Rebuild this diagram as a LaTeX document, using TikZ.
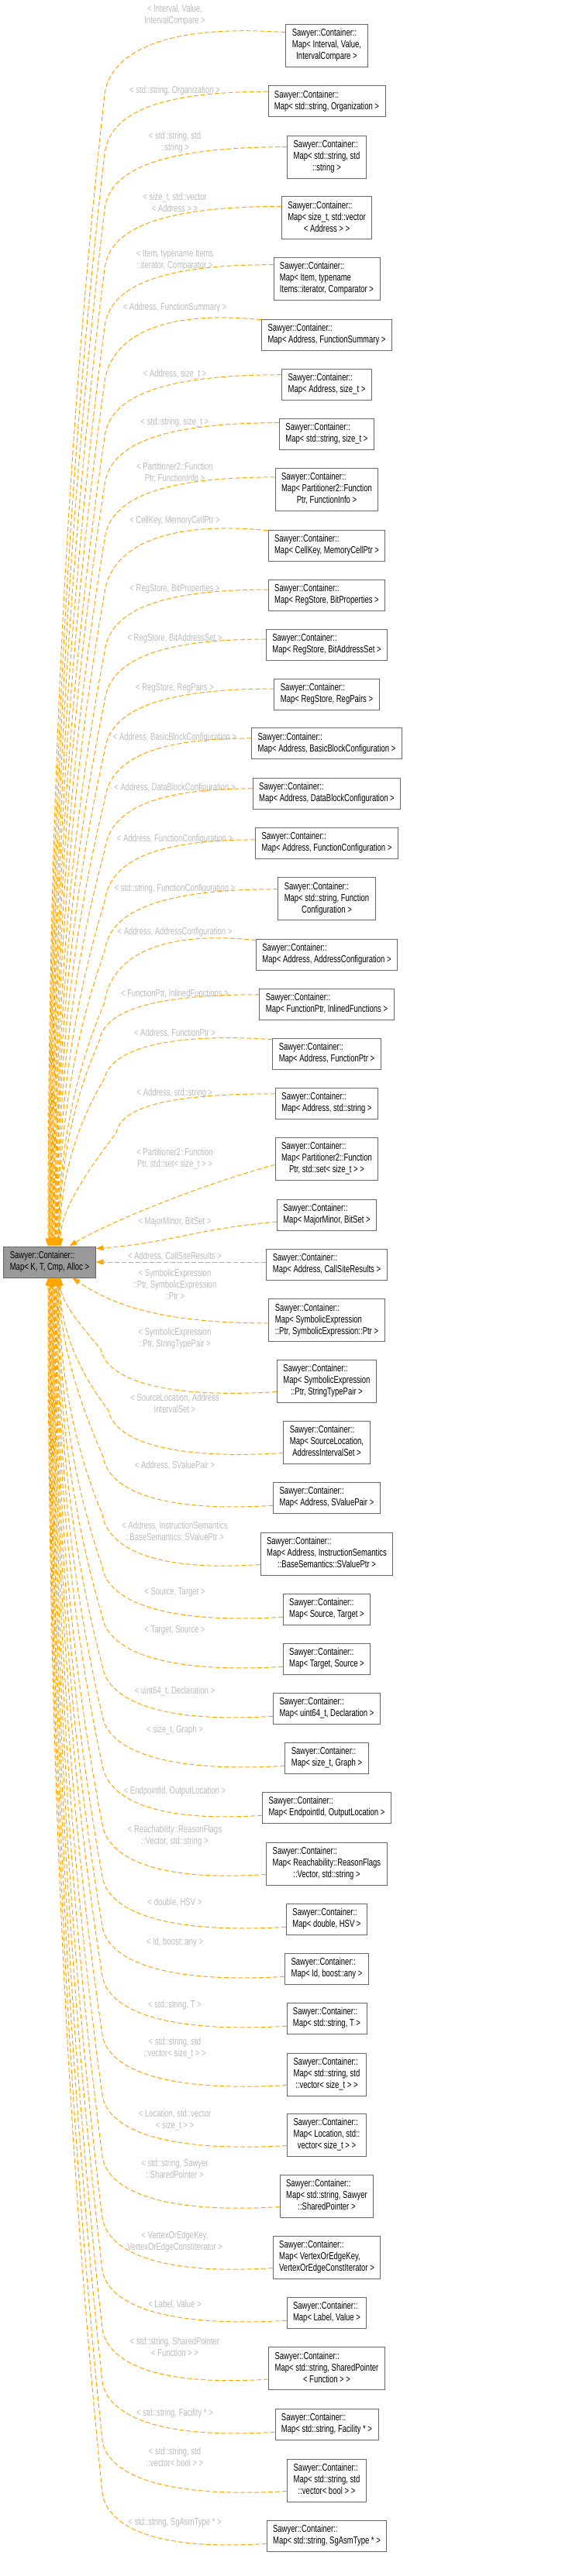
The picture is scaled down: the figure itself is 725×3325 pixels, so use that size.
\documentclass[tikz,border=0pt]{standalone}
\usepackage{fontspec}
\newfontfamily\dox{Liberation Sans}[FakeStretch=0.73]
\usetikzlibrary{calc,arrows.meta}
\definecolor{edgeor}{HTML}{FFA500}
\definecolor{boxgray}{HTML}{666666}
\definecolor{mainfill}{HTML}{999999}
\definecolor{lblgray}{HTML}{BBBBBB}
\newcommand\ntwo[1]{\begin{tabular}{@{}l@{}}Sawyer::Container::\\\multicolumn{1}{@{}c@{}}{#1}\end{tabular}}
\newcommand\nthree[2]{\begin{tabular}{@{}l@{}}Sawyer::Container::\\#1\\\multicolumn{1}{@{}c@{}}{#2}\end{tabular}}
% top edge: #1 node, #2 attach fraction, #3 first control offset (down), #4 xv, #5 hook height, #6 end x, #7 drift factor
\newcommand\tedge[7]{%
 \draw[inh] let \p1=($(#1.north west)!#2!(#1.south west)$), \p2=(main.north),
   \n1={\y1-#5-(\y2)} in
  (\p1) .. controls ({#4+0.28*(\x1-#4)},{\y1-(#3)}) and ({#4+6},{\y1-0.4*#5}) .. ({#4},{\y1-#5})
  .. controls ({#4-#7*(#4-#6)},{\y1-#5-\n1/3}) and ({#6},{\y2+\n1/3}) .. ({#6},{\y2});}
% bottom edge: #1 node, #2 xv, #3 hook height, #4 end x, #5 drift factor
\newcommand\bedge[5]{%
 \draw[inh] let \p1=($(#1.north west)!0.75!(#1.south west)$), \p2=(main.south),
   \n1={\y2-(\y1)-#3} in
  (\p1) .. controls ({#2+0.28*(\x1-#2)},{\y1-10}) and ({#2+6},{\y1+0.4*#3}) .. ({#2},{\y1+#3})
  .. controls ({#2-#5*(#2-#4)},{\y1+#3+\n1/3}) and ({#4},{\y2-\n1/3}) .. ({#4},{\y2});}
\begin{document}
\begin{tikzpicture}[x=1pt,y=1pt,
  box/.style={draw=boxgray,line width=0.9pt,fill=white,inner xsep=8pt,inner ysep=5pt,
    font=\dox\fontsize{13}{15}\selectfont},
  mainbox/.style={box,fill=mainfill},
  lbl/.style={font=\dox\fontsize{13}{15}\selectfont,text=lblgray,align=center,inner sep=0pt},
  inh/.style={draw=edgeor,line width=1pt,dash pattern=on 6pt off 3pt,
    -{Triangle[length=10pt,width=7pt]}}]
\useasboundingbox (0,0) rectangle (725,-3325);

\node[mainbox] (main) at (64,-1629) {\ntwo{Map< K, T, Cmp, Alloc >}};

\node[box] (n1) at (421.5,-58.5) {\nthree{Map< Interval, Value,}{IntervalCompare >}};
\node[box] (n2) at (421.5,-130.5) {\ntwo{Map< std::string, Organization >}};
\node[box] (n3) at (421.5,-202.5) {\nthree{Map< std::string, std}{::string >}};
\node[box] (n4) at (421.5,-281) {\nthree{Map< size\_t, std::vector}{< Address > >}};
\node[box] (n5) at (421.5,-359.5) {\nthree{Map< Item, typename}{Items::iterator, Comparator >}};
\node[box] (n6) at (421.5,-432) {\ntwo{Map< Address, FunctionSummary >}};
\node[box] (n7) at (421.5,-496) {\ntwo{Map< Address, size\_t >}};
\node[box] (n8) at (421.5,-560) {\ntwo{Map< std::string, size\_t >}};
\node[box] (n9) at (421.5,-631.5) {\nthree{Map< Partitioner2::Function}{Ptr, FunctionInfo >}};
\node[box] (n10) at (421.5,-704) {\ntwo{Map< CellKey, MemoryCellPtr >}};
\node[box] (n11) at (421.5,-768) {\ntwo{Map< RegStore, BitProperties >}};
\node[box] (n12) at (421.5,-832) {\ntwo{Map< RegStore, BitAddressSet >}};
\node[box] (n13) at (421.5,-896) {\ntwo{Map< RegStore, RegPairs >}};
\node[box] (n14) at (421.5,-959.5) {\ntwo{Map< Address, BasicBlockConfiguration >}};
\node[box] (n15) at (421.5,-1024) {\ntwo{Map< Address, DataBlockConfiguration >}};
\node[box] (n16) at (421.5,-1088) {\ntwo{Map< Address, FunctionConfiguration >}};
\node[box] (n17) at (421.5,-1160) {\nthree{Map< std::string, Function}{Configuration >}};
\node[box] (n18) at (421.5,-1232) {\ntwo{Map< Address, AddressConfiguration >}};
\node[box] (n19) at (421.5,-1296) {\ntwo{Map< FunctionPtr, InlinedFunctions >}};
\node[box] (n20) at (421.5,-1360) {\ntwo{Map< Address, FunctionPtr >}};
\node[box] (n21) at (421.5,-1424) {\ntwo{Map< Address, std::string >}};
\node[box] (n22) at (421.5,-1495.5) {\nthree{Map< Partitioner2::Function}{Ptr, std::set< size\_t > >}};
\node[box] (n23) at (421.5,-1568) {\ntwo{Map< MajorMinor, BitSet >}};
\node[box] (n24) at (421.5,-1632) {\ntwo{Map< Address, CallSiteResults >}};
\node[box] (n25) at (421.5,-1704) {\nthree{Map< SymbolicExpression}{::Ptr, SymbolicExpression::Ptr >}};
\node[box] (n26) at (421.5,-1782.5) {\nthree{Map< SymbolicExpression}{::Ptr, StringTypePair >}};
\node[box] (n27) at (421.5,-1861.5) {\nthree{Map< SourceLocation,}{AddressIntervalSet >}};
\node[box] (n28) at (421.5,-1933) {\ntwo{Map< Address, SValuePair >}};
\node[box] (n29) at (421.5,-2005.5) {\nthree{Map< Address, InstructionSemantics}{::BaseSemantics::SValuePtr >}};
\node[box] (n30) at (421.5,-2077) {\ntwo{Map< Source, Target >}};
\node[box] (n31) at (421.5,-2141) {\ntwo{Map< Target, Source >}};
\node[box] (n32) at (421.5,-2205) {\ntwo{Map< uint64\_t, Declaration >}};
\node[box] (n33) at (421.5,-2269) {\ntwo{Map< size\_t, Graph >}};
\node[box] (n34) at (421.5,-2333) {\ntwo{Map< EndpointId, OutputLocation >}};
\node[box] (n35) at (421.5,-2405.5) {\nthree{Map< Reachability::ReasonFlags}{::Vector, std::string >}};
\node[box] (n36) at (421.5,-2477) {\ntwo{Map< double, HSV >}};
\node[box] (n37) at (421.5,-2541) {\ntwo{Map< Id, boost::any >}};
\node[box] (n38) at (421.5,-2605) {\ntwo{Map< std::string, T >}};
\node[box] (n39) at (421.5,-2677.5) {\nthree{Map< std::string, std}{::vector< size\_t > >}};
\node[box] (n40) at (421.5,-2755.5) {\nthree{Map< Location, std::}{vector< size\_t > >}};
\node[box] (n41) at (421.5,-2834.5) {\nthree{Map< std::string, Sawyer}{::SharedPointer >}};
\node[box] (n42) at (421.5,-2913.5) {\nthree{Map< VertexOrEdgeKey,}{VertexOrEdgeConstIterator >}};
\node[box] (n43) at (421.5,-2985) {\ntwo{Map< Label, Value >}};
\node[box] (n44) at (421.5,-3057) {\nthree{Map< std::string, SharedPointer}{< Function > >}};
\node[box] (n45) at (421.5,-3129) {\ntwo{Map< std::string, Facility * >}};
\node[box] (n46) at (421.5,-3201.5) {\nthree{Map< std::string, std}{::vector< bool > >}};
\node[box] (n47) at (421.5,-3273) {\ntwo{Map< std::string, SgAsmType * >}};

% labels
\node[lbl] (l1) at (225.5,-19.5) {< Interval, Value,\\IntervalCompare >};
\node[lbl] (l2) at (225.5,-117) {< std::string, Organization >};
\node[lbl] (l3) at (225.5,-184) {< std::string, std\\::string >};
\node[lbl] (l4) at (225.5,-261) {< size\_t, std::vector\\< Address > >};
\node[lbl] (l5) at (225.5,-336) {< Item, typename Items\\::iterator, Comparator >};
\node[lbl] (l6) at (225.5,-397) {< Address, FunctionSummary >};
\node[lbl] (l7) at (225.5,-483) {< Address, size\_t >};
\node[lbl] (l8) at (225.5,-545) {< std::string, size\_t >};
\node[lbl] (l9) at (225.5,-610) {< Partitioner2::Function\\Ptr, FunctionInfo >};
\node[lbl] (l10) at (225.5,-672) {< CellKey, MemoryCellPtr >};
\node[lbl] (l11) at (225.5,-760) {< RegStore, BitProperties >};
\node[lbl] (l12) at (225.5,-824) {< RegStore, BitAddressSet >};
\node[lbl] (l13) at (225.5,-888) {< RegStore, RegPairs >};
\node[lbl] (l14) at (225.5,-952) {< Address, BasicBlockConfiguration >};
\node[lbl] (l15) at (225.5,-1017) {< Address, DataBlockConfiguration >};
\node[lbl] (l16) at (225.5,-1083) {< Address, FunctionConfiguration >};
\node[lbl] (l17) at (225.5,-1147) {< std::string, FunctionConfiguration >};
\node[lbl] (l18) at (225.5,-1203) {< Address, AddressConfiguration >};
\node[lbl] (l19) at (225.5,-1283) {< FunctionPtr, InlinedFunctions >};
\node[lbl] (l20) at (225.5,-1334) {< Address, FunctionPtr >};
\node[lbl] (l21) at (225.5,-1411) {< Address, std::string >};
\node[lbl] (l22) at (225.5,-1496) {< Partitioner2::Function\\Ptr, std::set< size\_t > >};
\node[lbl] (l23) at (225.5,-1577) {< MajorMinor, BitSet >};
\node[lbl] (l24) at (225.5,-1622) {< Address, CallSiteResults >};
\node[lbl] (l25) at (225.5,-1658) {< SymbolicExpression\\::Ptr, SymbolicExpression\\::Ptr >};
\node[lbl] (l26) at (225.5,-1728) {< SymbolicExpression\\::Ptr, StringTypePair >};
\node[lbl] (l27) at (225.5,-1811) {< SourceLocation, Address\\IntervalSet >};
\node[lbl] (l28) at (225.5,-1892) {< Address, SValuePair >};
\node[lbl] (l29) at (225.5,-1976) {< Address, InstructionSemantics\\::BaseSemantics::SValuePtr >};
\node[lbl] (l30) at (225.5,-2055) {< Source, Target >};
\node[lbl] (l31) at (225.5,-2104) {< Target, Source >};
\node[lbl] (l32) at (225.5,-2183) {< uint64\_t, Declaration >};
\node[lbl] (l33) at (225.5,-2233) {< size\_t, Graph >};
\node[lbl] (l34) at (225.5,-2312) {< EndpointId, OutputLocation >};
\node[lbl] (l35) at (225.5,-2370) {< Reachability::ReasonFlags\\::Vector, std::string >};
\node[lbl] (l36) at (225.5,-2456) {< double, HSV >};
\node[lbl] (l37) at (225.5,-2507) {< Id, boost::any >};
\node[lbl] (l38) at (225.5,-2588) {< std::string, T >};
\node[lbl] (l39) at (225.5,-2644) {< std::string, std\\::vector< size\_t > >};
\node[lbl] (l40) at (225.5,-2737) {< Location, std::vector\\< size\_t > >};
\node[lbl] (l41) at (225.5,-2799.5) {< std::string, Sawyer\\::SharedPointer >};
\node[lbl] (l42) at (225.5,-2894) {< VertexOrEdgeKey,\\VertexOrEdgeConstIterator >};
\node[lbl] (l43) at (225.5,-2975) {< Label, Value >};
\node[lbl] (l44) at (225.5,-3029) {< std::string, SharedPointer\\< Function > >};
\node[lbl] (l45) at (225.5,-3115) {< std::string, Facility * >};
\node[lbl] (l46) at (225.5,-3171) {< std::string, std\\::vector< bool > >};
\node[lbl] (l47) at (225.5,-3256) {< std::string, SgAsmType * >};

% top group edges
\tedge{n1}{0.2}{-12}{135}{80}{62}{0.75}
\tedge{n2}{0.2}{0}{135}{80}{62.8}{0.75}
\tedge{n3}{0.27}{0}{135}{80}{63.6}{0.75}
\tedge{n4}{0.24}{0}{135}{80}{64.4}{0.75}
\tedge{n5}{0.18}{0}{135}{80}{65.2}{0.75}
\tedge{n6}{0.03}{-15}{135}{80}{66}{0.75}
\tedge{n7}{0.2}{0}{135}{80}{66.8}{0.75}
\tedge{n8}{0.15}{0}{135}{80}{67.6}{0.75}
\tedge{n9}{0.22}{0}{135}{80}{68.4}{0.75}
\tedge{n10}{0.03}{-15}{135}{80}{69.2}{0.75}
\tedge{n11}{0.33}{0}{135}{80}{70}{0.75}
\tedge{n12}{0.33}{0}{135}{80}{70.8}{0.75}
\tedge{n13}{0.33}{0}{135}{80}{71.6}{0.75}
\tedge{n14}{0.34}{0}{135}{80}{72.4}{0.75}
\tedge{n15}{0.35}{0}{135}{80}{73.2}{0.75}
\tedge{n16}{0.4}{0}{135}{80}{74}{0.75}
\tedge{n17}{0.28}{0}{135}{80}{74.8}{0.75}
\tedge{n18}{0.05}{-15}{135}{80}{75.6}{0.75}
\tedge{n19}{0.2}{0}{128}{60}{76.4}{0.75}
\tedge{n20}{0.05}{-10}{135}{50}{77.2}{0.75}
\tedge{n21}{0.2}{0}{150}{50}{78}{0.5}
% near edges
\draw[inh] ($(n22.north west)!0.64!(n22.south west)$) .. controls +(-110,-30) and +(40,25) .. ($(main.north west)+(85,0)$);
\draw[inh] ($(n23.north west)!0.72!(n23.south west)$) .. controls +(-110,-10) and +(100,8) .. ($(main.north east)+(0,-3)$);
\draw[inh] (n24.west |- main.east) -- (main.east);
\draw[inh] ($(n25.north west)!0.57!(n25.south west)$) .. controls +(-150,0) and +(45,-30) .. ($(main.south west)+(89,0)$);
% bottom group edges
\bedge{n26}{130}{55}{78}{0.5}
\bedge{n27}{140}{55}{77.2}{0.7}
\bedge{n28}{133}{63}{76.5}{0.6}
\bedge{n29}{132}{65}{75.7}{0.75}
\bedge{n30}{132}{65}{75}{0.75}
\bedge{n31}{132}{65}{74.2}{0.75}
\bedge{n32}{132}{65}{73.4}{0.75}
\bedge{n33}{132}{65}{72.7}{0.75}
\bedge{n34}{132}{65}{71.9}{0.75}
\bedge{n35}{132}{65}{71.1}{0.75}
\bedge{n36}{132}{65}{70.4}{0.75}
\bedge{n37}{132}{65}{69.6}{0.75}
\bedge{n38}{132}{65}{68.9}{0.75}
\bedge{n39}{132}{65}{68.1}{0.75}
\bedge{n40}{132}{65}{67.3}{0.75}
\bedge{n41}{132}{65}{66.6}{0.75}
\bedge{n42}{132}{65}{65.8}{0.75}
\bedge{n43}{132}{65}{65}{0.75}
\bedge{n44}{132}{65}{64.3}{0.75}
\bedge{n45}{132}{65}{63.5}{0.75}
\bedge{n46}{132}{65}{62.8}{0.75}
\bedge{n47}{132}{65}{62}{0.75}
\end{tikzpicture}
\end{document}
